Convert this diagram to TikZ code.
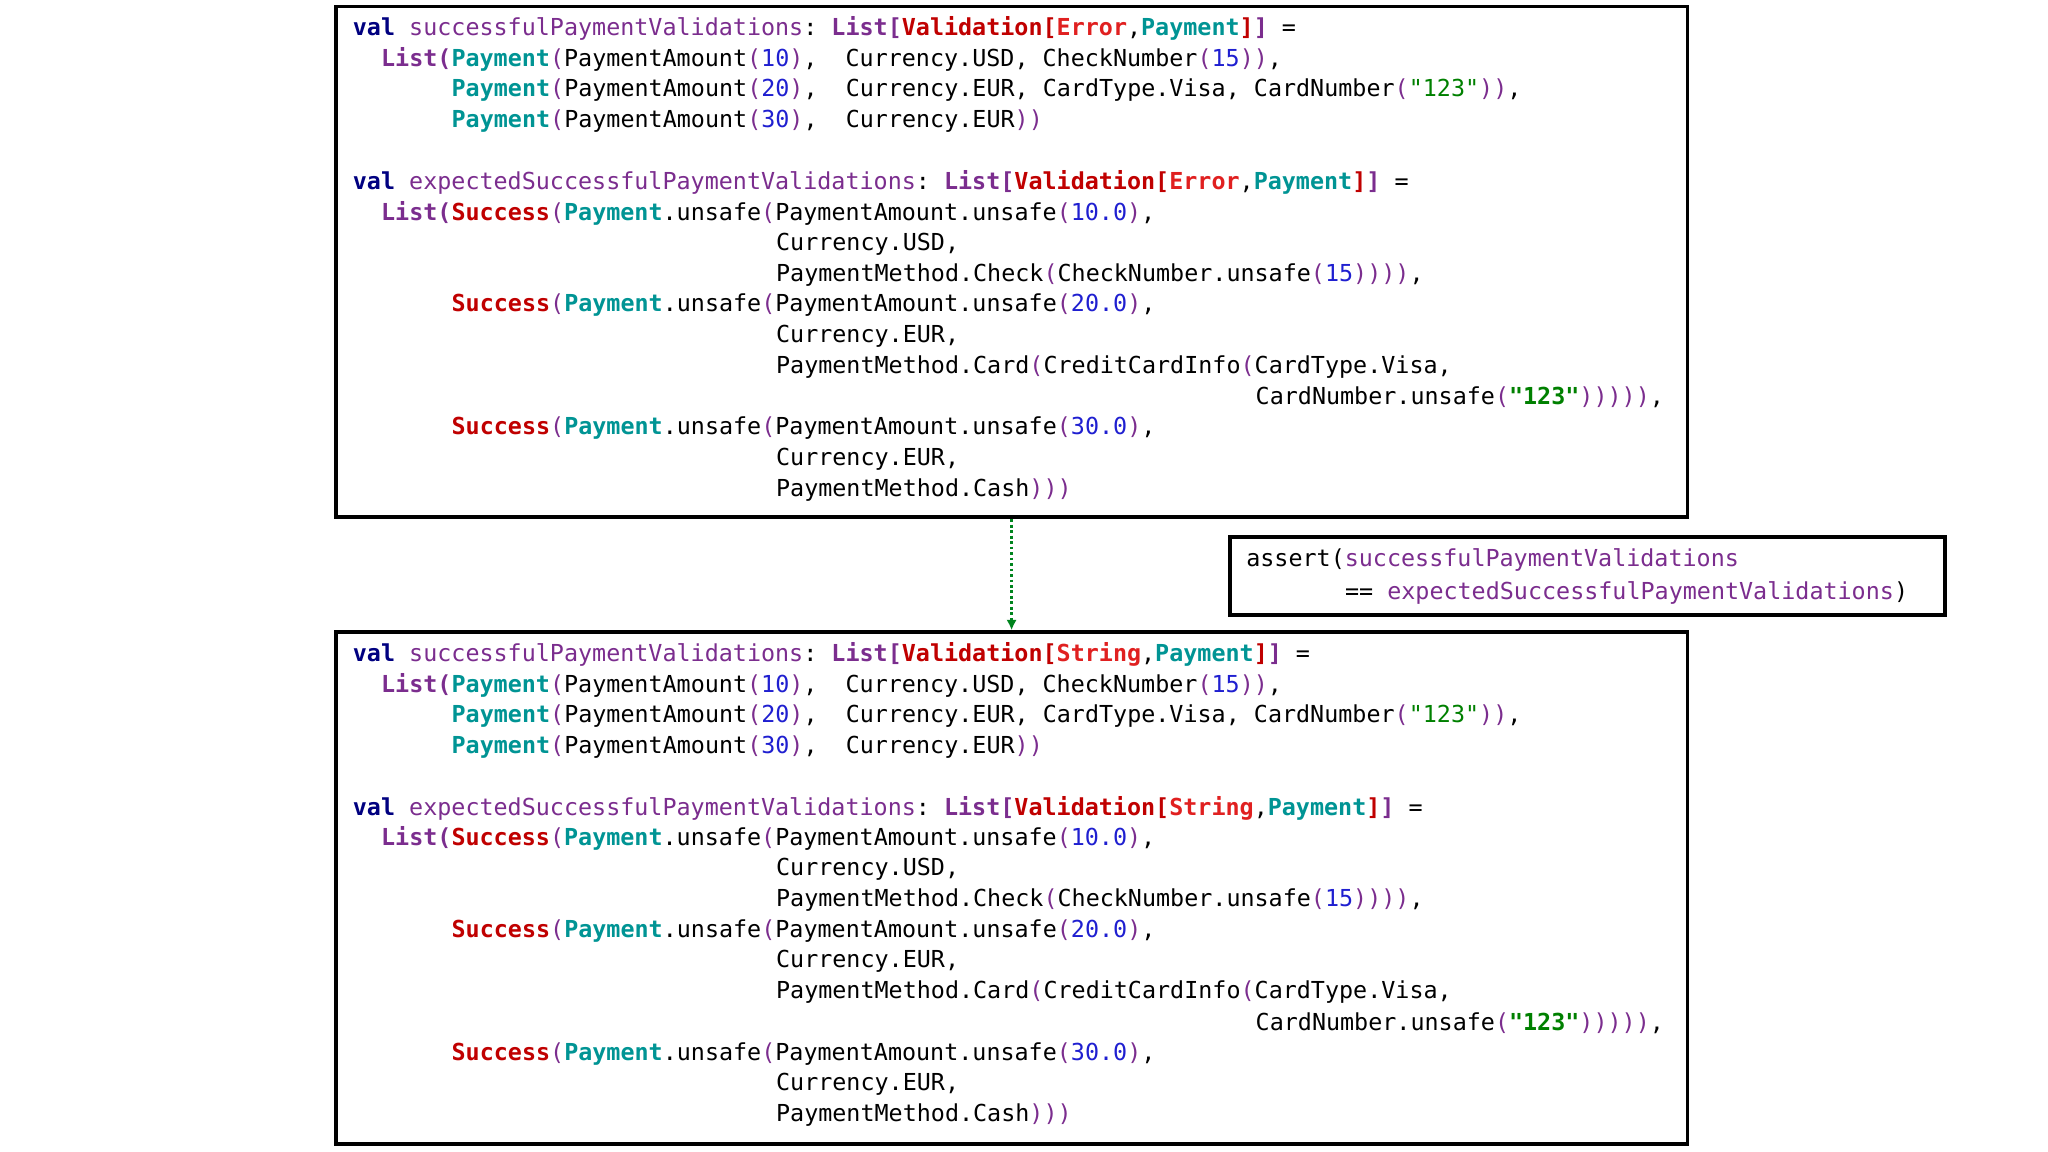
\documentclass[tikz,border=0pt]{standalone}
\usepackage{fontspec}
\setmonofont{DejaVu Sans Mono}
\usetikzlibrary{arrows.meta}
\definecolor{cnavy}{HTML}{000080}
\definecolor{cpurp}{HTML}{7B2D8E}
\definecolor{cdred}{HTML}{C00000}
\definecolor{cred}{HTML}{E02020}
\definecolor{cteal}{HTML}{009494}
\definecolor{cblue}{HTML}{1F1FD0}
\definecolor{cgreen}{HTML}{008000}
\newcommand\K[1]{\textcolor{cnavy}{\bfseries #1}}
\newcommand\V[1]{\textcolor{cpurp}{#1}}
\newcommand\Lq[1]{\textcolor{cpurp}{\bfseries #1}}
\newcommand\R[1]{\textcolor{cdred}{\bfseries #1}}
\newcommand\E[1]{\textcolor{cred}{\bfseries #1}}
\newcommand\T[1]{\textcolor{cteal}{\bfseries #1}}
\newcommand\N[1]{\textcolor{cblue}{#1}}
\newcommand\G[1]{\textcolor{cgreen}{\bfseries #1}}
\newcommand\Pq[1]{\textcolor{cpurp}{#1}}
\newcounter{lnc}
\newcommand\cl[3]{\stepcounter{lnc}\node[code] (t\arabic{lnc}) at ({270+#1*10.8},{#2}) {#3};}
\newcommand\codeblock[2]{%
\cl{0}{#1+22+0*23.53}{\K{val} \V{successfulPaymentValidations}: \Lq{List[}\R{Validation[}\E{#2},\T{Payment}\R{]}\Lq{]} =}
\cl{2}{#1+22+1*23.53}{\Lq{List(}\T{Payment}\Pq{(}PaymentAmount\Pq{(}\N{10}\Pq{)},~~Currency.USD, CheckNumber\Pq{(}\N{15}\Pq{))},}
\cl{7}{#1+22+2*23.53}{\T{Payment}\Pq{(}PaymentAmount\Pq{(}\N{20}\Pq{)},~~Currency.EUR, CardType.Visa, CardNumber\Pq{(}\textcolor{cgreen}{"123"}\Pq{))},}
\cl{7}{#1+22+3*23.53}{\T{Payment}\Pq{(}PaymentAmount\Pq{(}\N{30}\Pq{)},~~Currency.EUR\Pq{))}}
\cl{0}{#1+22+5*23.53}{\K{val} \V{expectedSuccessfulPaymentValidations}: \Lq{List[}\R{Validation[}\E{#2},\T{Payment}\R{]}\Lq{]} =}
\cl{2}{#1+22+6*23.53}{\Lq{List(}\R{Success}\Pq{(}\T{Payment}.unsafe\Pq{(}PaymentAmount.unsafe\Pq{(}\N{10.0}\Pq{)},}
\cl{30}{#1+22+7*23.53}{Currency.USD,}
\cl{30}{#1+22+8*23.53}{PaymentMethod.Check\Pq{(}CheckNumber.unsafe\Pq{(}\N{15}\Pq{))))},}
\cl{7}{#1+22+9*23.53}{\R{Success}\Pq{(}\T{Payment}.unsafe\Pq{(}PaymentAmount.unsafe\Pq{(}\N{20.0}\Pq{)},}
\cl{30}{#1+22+10*23.53}{Currency.EUR,}
\cl{30}{#1+22+11*23.53}{PaymentMethod.Card\Pq{(}CreditCardInfo\Pq{(}CardType.Visa,}
\cl{64}{#1+22+12*23.53}{CardNumber.unsafe\Pq{(}\G{"123"}\Pq{)))))},}
\cl{7}{#1+22+13*23.53}{\R{Success}\Pq{(}\T{Payment}.unsafe\Pq{(}PaymentAmount.unsafe\Pq{(}\N{30.0}\Pq{)},}
\cl{30}{#1+22+14*23.53}{Currency.EUR,}
\cl{30}{#1+22+15*23.53}{PaymentMethod.Cash\Pq{)))}}}
\begin{document}
\begin{tikzpicture}[x=1pt,y=-1pt,
  code/.style={anchor=west,inner sep=0pt,font=\ttfamily\fontsize{17.9}{20}\selectfont},
  box/.style={draw,line width=3pt,inner sep=0pt}]
\useasboundingbox (0,0) rectangle (1568,882);
\node[box,minimum width=1035pt,minimum height=391pt] (top) at (774.5,200.5) {};
\node[box,minimum width=1035pt,minimum height=392pt] (bot) at (774.5,680) {};
\node[box,minimum width=547pt,minimum height=60pt] (as) at (1215.5,441) {};
\codeblock{0}{Error}
\codeblock{479}{String}
\node[code] (a1) at (954,429) {assert(\V{successfulPaymentValidations}};
\node[code] (a2) at (1029.6,454) {== \V{expectedSuccessfulPaymentValidations})};
\draw[cgreen!80!cteal,line width=2.2pt,dotted,-{Latex[length=8pt,width=8pt]}] (top.south) -- (bot.north);
\end{tikzpicture}
\end{document}
